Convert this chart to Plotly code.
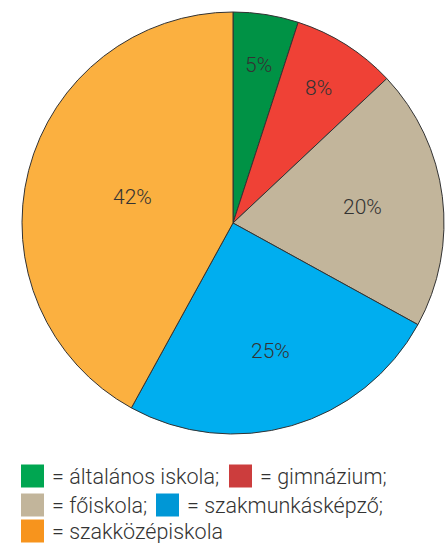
import math
import plotly.graph_objects as go

categories = ["általános iskola", "gimnázium", "főiskola", "szakmunkásképző", "szakközépiskola"]
values = [5, 8, 20, 25, 42]
slice_colors = ["#009245", "#ef4136", "#c2b59b", "#00aeef", "#fbb040"]
legend_colors = ["#00a651", "#cc3d3d", "#c2b59b", "#0097d6", "#f7941d"]
labels_text = [f"{v}%" for v in values]
label_radius_frac = [0.76, 0.76, 0.62, 0.63, 0.49]  # style: how far from centre each label sits

W, H = 448, 543
CX, CY, R = 233, 223, 211  # pie centre / radius in pixels
FONT = "Roboto, Liberation Sans, sans-serif"
fig = go.Figure(go.Pie(
    labels=categories, values=values,
    textinfo="none",
    sort=False, direction="clockwise", rotation=0,
    marker=dict(colors=slice_colors, line=dict(color="#333333", width=1)),
    domain=dict(x=[(CX - R) / W, (CX + R) / W], y=[(H - (CY + R)) / H, (H - (CY - R)) / H]),
    showlegend=False, hoverinfo="label+percent",
))

shapes, annotations = [], []

# percentage labels at the middle angle of each slice
total = sum(values)
cum = 0
for v, txt, frac in zip(values, labels_text, label_radius_frac):
    mid = (cum + v / 2) / total * 2 * math.pi
    cum += v
    px = CX + frac * R * math.sin(mid)
    py = CY - frac * R * math.cos(mid)
    annotations.append(dict(xref="paper", yref="paper", x=px / W, y=(H - py) / H,
                            xanchor="center", yanchor="middle", text=txt, showarrow=False,
                            font=dict(family=FONT, size=21, color="#333333", weight=300)))

# custom legend: rows of (color index, x start in pixels, text)
rows = [
    [(0, 21, "= általános iskola;"), (1, 229, "= gimnázium;")],
    [(2, 21, "= főiskola;"), (3, 156, "= szakmunkásképző;")],
    [(4, 21, "= szakközépiskola")],
]
row_y = [476, 505, 531]
for r, items in enumerate(rows):
    yc = row_y[r]
    for ci, x0, txt in items:
        shapes.append(dict(type="rect", xref="paper", yref="paper",
                           x0=x0 / W, x1=(x0 + 23) / W,
                           y0=(H - (yc - 11.5)) / H, y1=(H - (yc + 11.5)) / H,
                           fillcolor=legend_colors[ci], line=dict(width=0)))
        annotations.append(dict(xref="paper", yref="paper", x=(x0 + 29) / W, y=(H - yc) / H,
                                xanchor="left", yanchor="middle", text=txt, showarrow=False,
                                font=dict(family=FONT, size=21.5, color="#333333", weight=300)))

fig.update_layout(width=W, height=H, margin=dict(l=0, r=0, t=0, b=0),
                  paper_bgcolor="white", plot_bgcolor="white",
                  shapes=shapes, annotations=annotations)
fig.write_html("out.html")
